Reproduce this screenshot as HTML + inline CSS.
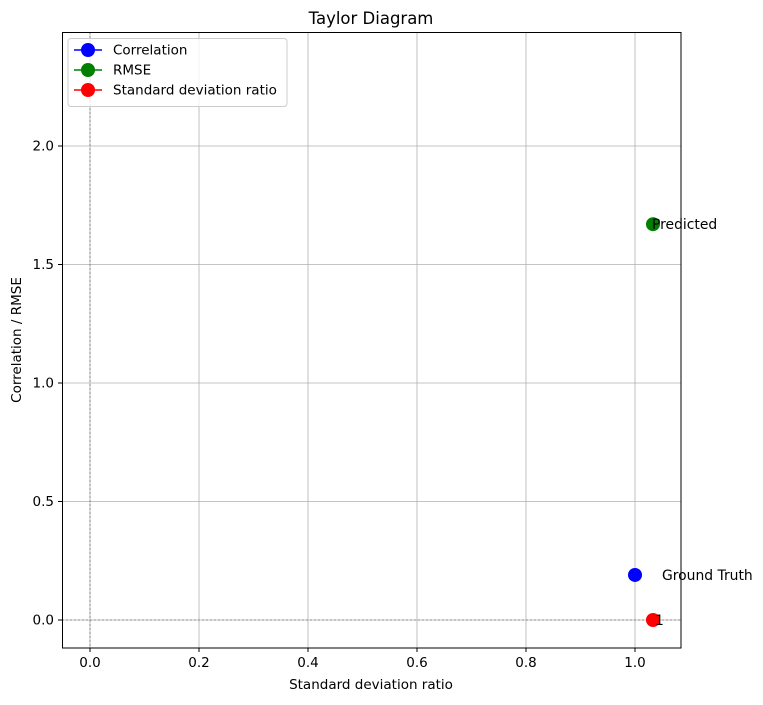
<!DOCTYPE html>
<html><head><meta charset="utf-8"><style>
body{margin:0;background:#fff;font-family:"DejaVu Sans","Liberation Sans",sans-serif;}
</style></head><body>
<svg id="chart" width="763" height="701" xmlns="http://www.w3.org/2000/svg" font-family="DejaVu Sans, Liberation Sans, sans-serif">
<rect width="763" height="701" fill="#fff"/>
<g id="grid"></g>
<g id="marks"></g>
<rect x="62.5" y="32.5" width="618.5" height="615.5" fill="none" stroke="#000" stroke-width="1"/>
<g id="ticks" font-size="13.5" fill="#000"></g>
<text x="371" y="24" font-size="16.5" text-anchor="middle">Taylor Diagram</text>
<text x="371" y="689" font-size="13.5" text-anchor="middle">Standard deviation ratio</text>
<text transform="translate(21,340) rotate(-90)" font-size="13.5" text-anchor="middle">Correlation / RMSE</text>
<g>
<rect x="68" y="38.5" width="219" height="68" rx="3" fill="#fff" fill-opacity="0.8" stroke="#ccc"/>
<g id="legend-items" font-size="13.5"></g>
</g>
</svg>
<script>
const xTicks=[0.0,0.2,0.4,0.6,0.8,1.0];
const yTicks=[0.0,0.5,1.0,1.5,2.0];
const seriesNames=["Correlation","RMSE","Standard deviation ratio"];
const seriesColors=["blue","green","red"];
const seriesX=[1.0,1.033,1.033];
const seriesY=[0.19,1.67,0.0];
const pointLabels=["Ground Truth","Predicted","1"];
const NS="http://www.w3.org/2000/svg";
const X=v=>90+v*545, Y=v=>620-v*237;
function mk(t,a,p){const e=document.createElementNS(NS,t);for(const k in a)e.setAttribute(k,a[k]);p.appendChild(e);return e;}
const grid=document.getElementById('grid'),ticks=document.getElementById('ticks'),marks=document.getElementById('marks');
xTicks.forEach(v=>{const x=X(v);
const l=mk('line',{x1:x,x2:x,y1:32,y2:648,stroke:'#b0b0b0','stroke-width':0.8},grid);


mk('line',{x1:x,x2:x,y1:648,y2:652,stroke:'#000'},ticks);
const t=mk('text',{x:x,y:667,'text-anchor':'middle'},ticks);t.textContent=v.toFixed(1);

});
yTicks.forEach(v=>{const y=Y(v);
const l=mk('line',{x1:62,x2:681,y1:y,y2:y,stroke:'#b0b0b0','stroke-width':0.8},grid);


mk('line',{x1:58,x2:62,y1:y,y2:y,stroke:'#000'},ticks);
const t=mk('text',{x:54,y:y+4.5,'text-anchor':'end'},ticks);t.textContent=v.toFixed(1);

});
mk('line',{x1:X(0),x2:X(0),y1:32,y2:648,stroke:'#777','stroke-width':0.8,'stroke-dasharray':'2,2'},grid);
mk('line',{x1:62,x2:681,y1:Y(0),y2:Y(0),stroke:'#777','stroke-width':0.8,'stroke-dasharray':'2,2'},grid);
seriesNames.forEach((n,i)=>{
const c=mk('circle',{cx:X(seriesX[i]),cy:Y(seriesY[i]),r:7,fill:seriesColors[i]},marks);


const lx=i===0?X(seriesX[i])+27:X(seriesX[i])+(i===1?-1:2);
const t=mk('text',{x:lx,y:Y(seriesY[i])+5,'font-size':13.9},marks);t.textContent=pointLabels[i];


const lg=document.getElementById('legend-items');const y=50+i*20;
const g=mk('g',{},lg);


mk('line',{x1:74,x2:102,y1:y,y2:y,stroke:seriesColors[i],'stroke-width':1.5},g);
mk('circle',{cx:88,cy:y,r:7,fill:seriesColors[i]},g);
const lt=mk('text',{x:113,y:y+4.5},g);lt.textContent=n;});
</script>
</body></html>
